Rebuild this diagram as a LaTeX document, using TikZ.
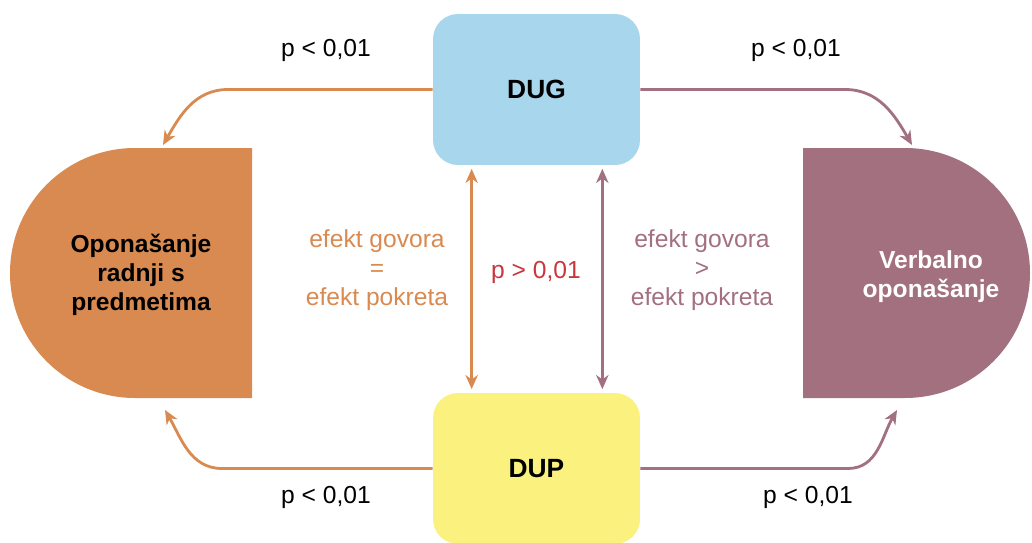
\documentclass[tikz,border=0pt]{standalone}
\usepackage{fontspec}
\setmainfont{Liberation Sans}
\usetikzlibrary{arrows.meta}
\definecolor{dugblue}{HTML}{A8D6EC}
\definecolor{dupyellow}{HTML}{FBF17E}
\definecolor{imitorange}{HTML}{D98A50}
\definecolor{verbpurple}{HTML}{A37080}
\definecolor{pred}{HTML}{C9363C}

\begin{document}
\begin{tikzpicture}[x=0.02cm,y=0.02cm,
    every node/.style={font=\fontsize{14}{16.5}\selectfont, align=center},
    cond/.style={rounded corners=0.5cm, minimum width=4.14cm, minimum height=3.02cm,
      font=\fontsize{15}{18}\selectfont\bfseries},
    link/.style={line width=1.6pt, -{Stealth[length=8pt,width=7pt,inset=2.5pt]}},
    twoway/.style={line width=1.6pt,
      {Stealth[length=8pt,width=7pt,inset=2.5pt]}-{Stealth[length=8pt,width=7pt,inset=2.5pt]}}]
      \useasboundingbox[fill=white] (0,0) rectangle (1032,542);
      % conditions
      \node[cond, fill=dugblue] (dug) at (536.5,452.5) {DUG};
      \node[cond, fill=dupyellow] (dup) at (536.5,73.5) {DUP};
      % outcomes
      \fill[imitorange] (252,394) -- (135,394) arc[start angle=90,end angle=270,radius=125] -- (252,144) -- cycle;
      \fill[verbpurple] (803,394) -- (905,394) arc[start angle=90,end angle=-90,radius=125] -- (803,144) -- cycle;
      \node[font=\fontsize{14}{16.5}\selectfont\bfseries] (imit) at (141,267) {Opona\v{s}anje\\radnji s\\predmetima};
      \node[font=\fontsize{14}{16.5}\selectfont\bfseries, text=white] (verb) at (931,265) {Verbalno\\opona\v{s}anje};
      \coordinate (imit-top) at (163,397);
      \coordinate (verb-top) at (912,397);
      \coordinate (imit-bot) at (165,132);
      \coordinate (verb-bot) at (897,132);
      % effects
      \draw[link, imitorange] (dug.west) -- (228,452.5) to[out=180,in=60] (imit-top);
      \draw[link, verbpurple] (dug.east) -- (845,452.5) to[out=0,in=120] (verb-top);
      \draw[link, imitorange] (dup.west) -- (222,73.5) to[out=180,in=-60] (imit-bot);
      \draw[link, verbpurple] (dup.east) -- (848,73.5) to[out=0,in=-120] (verb-bot);
      \draw[twoway, imitorange] ([xshift=0.78cm,yshift=-2pt]dug.south west) -- ([xshift=0.78cm,yshift=2pt]dup.north west);
      \draw[twoway, verbpurple] ([xshift=-0.76cm,yshift=-2pt]dug.south east) -- ([xshift=-0.76cm,yshift=2pt]dup.north east);
      % labels
      \node (pl1) at (326,492) {p < 0,01};
      \node (pl2) at (796,492) {p < 0,01};
      \node (pl3) at (326,45) {p < 0,01};
      \node (pl4) at (808,45) {p < 0,01};
      \node[text=imitorange] (eq) at (377,272) {efekt govora\\=\\efekt pokreta};
      \node[text=pred] (pgt) at (536,270) {p > 0,01};
      \node[text=verbpurple] (gt) at (702,272) {efekt govora\\>\\efekt pokreta};
   \end{tikzpicture}
\end{document}
